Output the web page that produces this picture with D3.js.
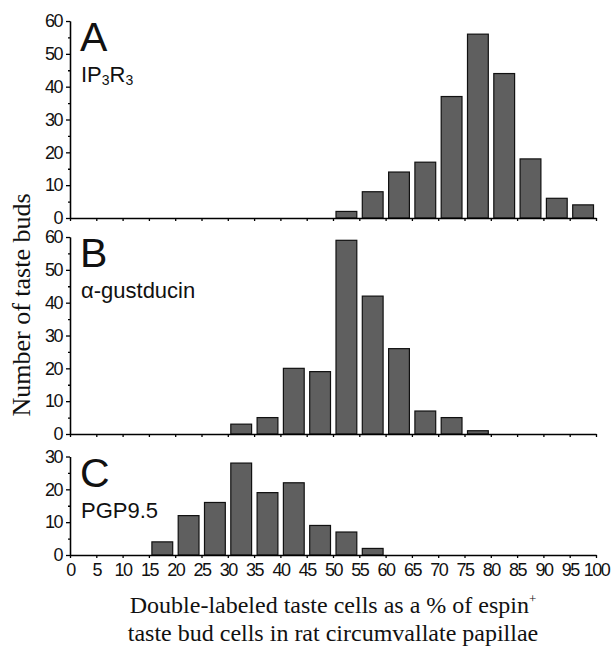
<!DOCTYPE html>
<html>
<head>
<meta charset="utf-8">
<script src="https://cdn.jsdelivr.net/npm/d3@7"></script>
<style>
  body { margin: 0; background: #fff; }
  .axis path, .axis line { stroke: #000; stroke-width: 1.3; }
  .axis text { font-family: "Liberation Sans", Arial, sans-serif; font-size: 18px; letter-spacing: -1.5px; fill: #111; }
</style>
</head>
<body>
<script>
'use strict';

// bin starts (%), each bin is 5 wide
var binsA = [50, 55, 60, 65, 70, 75, 80, 85, 90, 95];
var countsA = [2, 8, 14, 17, 37, 56, 44, 18, 6, 4];

var binsB = [30, 35, 40, 45, 50, 55, 60, 65, 70, 75];
var countsB = [3, 5, 20, 19, 59, 42, 26, 7, 5, 1];

var binsC = [15, 20, 25, 30, 35, 40, 45, 50, 55];
var countsC = [4, 12, 16, 28, 19, 22, 9, 7, 2];

var xTicks = [0, 5, 10, 15, 20, 25, 30, 35, 40, 45, 50, 55, 60, 65, 70, 75, 80, 85, 90, 95, 100];
var yTicksBig = [0, 10, 20, 30, 40, 50, 60];
var yTicksSmall = [0, 10, 20, 30];

var panels = [
  {letter: 'A', label: 'IP3R3', bins: binsA, counts: countsA, max: 60, ticks: yTicksBig, base: 218},
  {letter: 'B', label: 'α-gustducin', bins: binsB, counts: countsB, max: 60, ticks: yTicksBig, base: 434},
  {letter: 'C', label: 'PGP9.5', bins: binsC, counts: countsC, max: 30, ticks: yTicksSmall, base: 555}
];

var pxPerUnit = 3.283;

var svg = d3.select('body').append('svg')
    .attr('width', 615)
    .attr('height', 654);

// shared x scaling
var x = d3.scaleLinear().domain([0, 100]).range([70, 596]);

panels.forEach(function(p, i) {
    var y = d3.scaleLinear()
        .domain([0, p.max])
        .range([p.base, p.base - p.max * pxPerUnit]);

    var g = svg.append('g');

    // bars
    g.selectAll('rect')
        .data(p.bins)
        .enter().append('rect')
        .attr('x', function(d) { return x(d) + 3; })
        .attr('width', function(d) { return x(d + 5) - x(d) - 5.5; })
        .attr('y', function(d, j) { return y(p.counts[j]); })
        .attr('height', function(d, j) { return y(0) - y(p.counts[j]); })
        .attr('fill', '#5f5f5f')
        .attr('stroke', '#111')
        .attr('stroke-width', 1.2);

    // x axis
    var xAxis = d3.axisBottom(x).tickValues(xTicks).tickSize(3).tickSizeOuter(0).tickPadding(5);
    if (i < 2) xAxis.tickFormat('');
    g.append('g')
        .attr('class', 'axis')
        .attr('transform', 'translate(0,' + p.base + ')')
        .call(xAxis);

    // y axis, minor ticks then major ticks
    var minor = d3.range(5, p.max, 10);
    g.append('g')
        .attr('class', 'axis')
        .attr('transform', 'translate(70,0)')
        .call(d3.axisLeft(y).tickValues(minor).tickSize(2).tickSizeOuter(0).tickFormat(''));
    g.append('g')
        .attr('class', 'axis')
        .attr('transform', 'translate(70,0)')
        .call(d3.axisLeft(y).tickValues(p.ticks).tickSize(4).tickSizeOuter(0).tickPadding(4));

    // panel letter and marker name
    var top = y(p.max);
    g.append('text')
        .attr('x', 80)
        .attr('y', top + 30)
        .attr('font-family', 'Liberation Sans, Arial, sans-serif')
        .attr('font-size', 41)
        .attr('fill', '#111')
        .text(p.letter);

    var lab = g.append('text')
        .attr('x', 81)
        .attr('y', top + 61)
        .attr('font-family', 'Liberation Sans, Arial, sans-serif')
        .attr('font-size', 22)
        .attr('fill', '#111');
    if (p.label === 'IP3R3') {
        lab.append('tspan').text('IP');
        lab.append('tspan').attr('font-size', 14).attr('dy', 3).text('3');
        lab.append('tspan').attr('dy', -3).text('R');
        lab.append('tspan').attr('font-size', 14).attr('dy', 3).text('3');
    } else {
        lab.text(p.label);
    }
});

// axis titles
svg.append('text')
    .attr('transform', 'translate(30,305) rotate(-90)')
    .attr('text-anchor', 'middle')
    .attr('font-family', 'Liberation Serif, Times New Roman, serif')
    .attr('font-size', 26)
    .attr('fill', '#111')
    .text('Number of taste buds');

var xt = svg.append('text')
    .attr('x', 333)
    .attr('y', 613)
    .attr('text-anchor', 'middle')
    .attr('font-family', 'Liberation Serif, Times New Roman, serif')
    .attr('font-size', 24)
    .attr('fill', '#111');
xt.append('tspan').text('Double-labeled taste cells as a % of espin');
xt.append('tspan').attr('font-size', 13).attr('dy', -10).text('+');

svg.append('text')
    .attr('x', 333)
    .attr('y', 641)
    .attr('text-anchor', 'middle')
    .attr('font-family', 'Liberation Serif, Times New Roman, serif')
    .attr('font-size', 24)
    .attr('fill', '#111')
    .text('taste bud cells in rat circumvallate papillae');
</script>
</body>
</html>
